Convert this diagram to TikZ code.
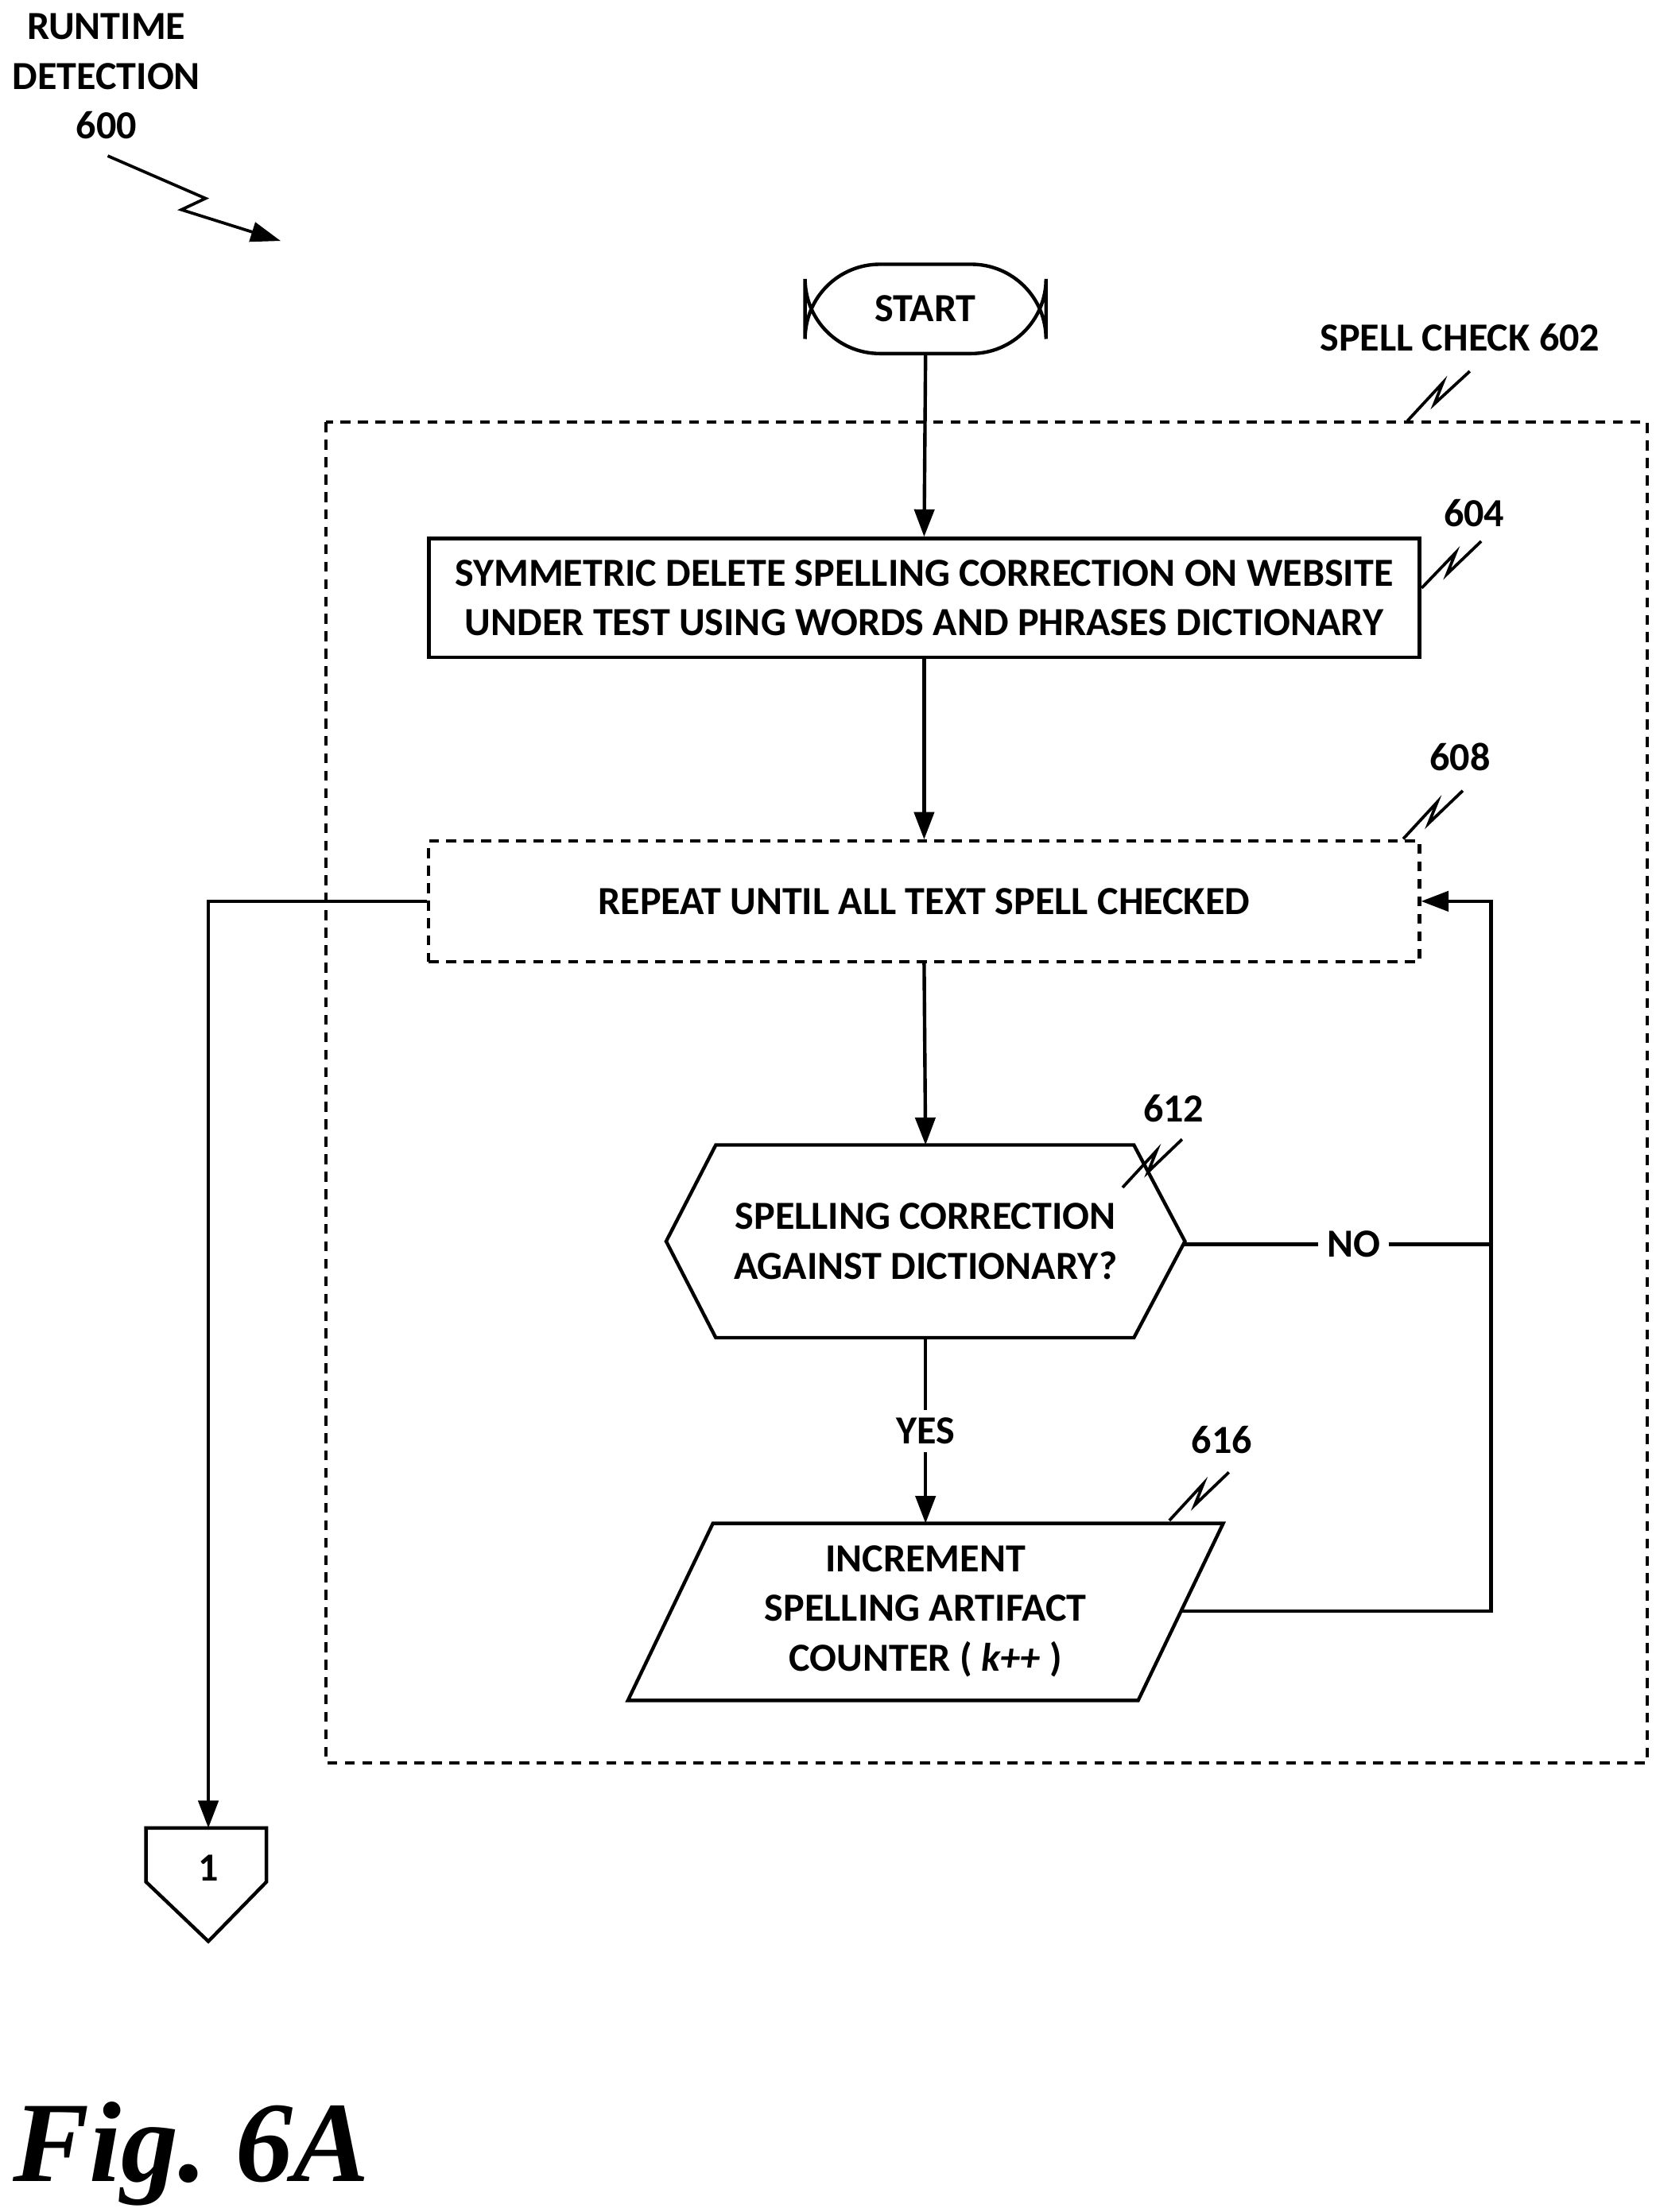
\documentclass[tikz,border=0pt]{standalone}
\usepackage{fontspec}
\setmainfont{Carlito}
\newfontfamily\figfont{Liberation Serif}
\usetikzlibrary{arrows.meta,shapes.geometric,calc}
\begin{document}
\begin{tikzpicture}[x=0.02cm,y=-0.02cm,
  every node/.style={font=\fontsize{16}{20}\selectfont\bfseries},
  box/.style={draw,line width=1.4pt},
  arr/.style={line width=1.4pt,-{Triangle[length=11pt,width=8pt]}},
  ln/.style={line width=1.4pt},
  sq/.style={line width=1.2pt}]
\useasboundingbox (0,0) rectangle (1168,1561);
% title
\node[align=center] (title) at (75,54) {RUNTIME\\DETECTION\\600};
\coordinate (t1) at (76,110); \coordinate (t2) at (198,170);
\draw[sq,-{Triangle[length=12pt,width=8pt]}] (t1) -- (145,140) -- (128,148) -- (t2);
% start
\node[box,rounded corners=30,minimum width=170*0.02cm,minimum height=63*0.02cm] (start) at (653,218) {START};
% spell check area
\draw[line width=1.3pt,dash pattern=on 4pt off 3pt] (230,298) rectangle (1162,1244);
\node (sclab) at (1030,238) {SPELL CHECK 602};
\draw[sq] (993,297) -- (1018,270) -- (1012,285) -- (1037,262);
% 604
\node[box,minimum width=699*0.02cm,minimum height=84*0.02cm,align=center] (b604) at (652,422) {SYMMETRIC DELETE SPELLING CORRECTION ON WEBSITE\\UNDER TEST USING WORDS AND PHRASES DICTIONARY};
\node (l604) at (1040,362) {604};
\draw[sq] (1003,415) -- (1027,390) -- (1021,405) -- (1045,382);
% 608
\node[draw,line width=1.3pt,dash pattern=on 4pt off 3pt,minimum width=699*0.02cm,minimum height=85*0.02cm] (b608) at (652,636) {REPEAT UNTIL ALL TEXT SPELL CHECKED};
\node (l608) at (1030,534) {608};
\draw[sq] (990,592) -- (1014,566) -- (1008,581) -- (1032,558);
% 612
\node[draw,line width=1.4pt,regular polygon,regular polygon sides=6,shape border rotate=0,minimum size=10pt,inner sep=0pt,align=center,draw=none] (d612) at (653,876) {};
\draw[ln] (470,876) -- (505,808) -- (800,808) -- (836,876) -- (800,944) -- (505,944) -- cycle;
\node[align=center] (t612) at (653,876) {SPELLING CORRECTION\\AGAINST DICTIONARY?};
\coordinate (h612top) at (653,808); \coordinate (h612bot) at (653,944); \coordinate (h612r) at (836,878);
\node (l612) at (828,782) {612};
\draw[sq] (792,838) -- (816,812) -- (810,827) -- (834,804);
% 616
\draw[ln] (503,1075) -- (863,1075) -- (803,1200) -- (443,1200) -- cycle;
\node[align=center] (t616) at (653,1137) {INCREMENT\\SPELLING ARTIFACT\\COUNTER ( \textit{k++} )};
\coordinate (p616top) at (653,1075); \coordinate (p616r) at (833,1137);
\node (l616) at (862,1016) {616};
\draw[sq] (825,1073) -- (849,1047) -- (843,1062) -- (867,1039);
% connectors
\draw[arr] (start.south) -- (b604.north);
\draw[arr] (b604.south) -- (b608.north);
\draw[arr] (b608.south) -- (h612top);
\draw[ln] (h612bot) -- (653,995);
\node (yes) at (653,1010) {YES};
\draw[arr] (653,1025) -- (p616top);
\coordinate (rc) at (1052,878);
\draw[ln] (h612r) -- (930,878);
\node (no) at (955,878) {NO};
\draw[arr] (980,878) -- (rc) -- (1052,636) -- (b608.east);
\draw[ln] (p616r) -- (1052,1137) -- (rc);
% off page
\coordinate (oc) at (147,1290);
\draw[arr] (b608.west) -- (147,636) -- (oc);
\draw[ln] (103,1290) -- (188,1290) -- (188,1328) -- (147,1370) -- (103,1328) -- cycle;
\node (one) at (147,1318) {1};
% fig
\node (fig) at (135,1520) {\figfont\fontsize{46}{50}\selectfont\bfseries\itshape Fig.\ 6A};
\end{tikzpicture}
\end{document}
